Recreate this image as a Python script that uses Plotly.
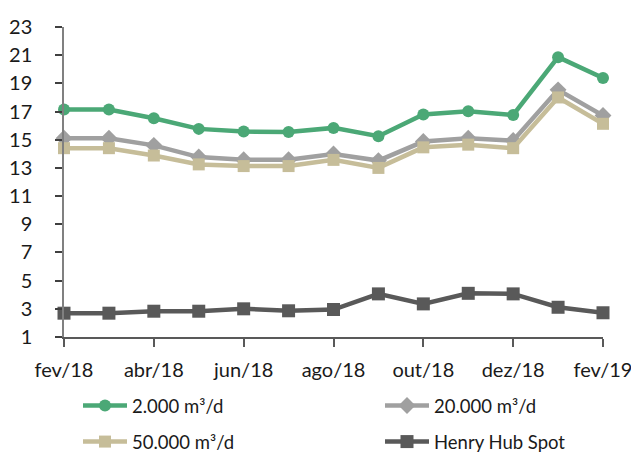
import plotly.graph_objects as go

months = ["fev/18", "mar/18", "abr/18", "mai/18", "jun/18", "jul/18", "ago/18",
          "set/18", "out/18", "nov/18", "dez/18", "jan/19", "fev/19"]
tick_labels = ["fev/18", "abr/18", "jun/18", "ago/18", "out/18", "dez/18", "fev/19"]
y_ticks = [1, 3, 5, 7, 9, 11, 13, 15, 17, 19, 21, 23]

s_2000 = [17.15, 17.15, 16.52, 15.77, 15.58, 15.55, 15.84, 15.25, 16.79, 17.02, 16.76, 20.86, 19.38]
s_20000 = [15.1, 15.1, 14.6, 13.77, 13.58, 13.58, 13.99, 13.52, 14.87, 15.1, 14.94, 18.54, 16.72]
s_50000 = [14.4, 14.4, 13.88, 13.25, 13.13, 13.13, 13.57, 13.0, 14.46, 14.65, 14.4, 18.0, 16.13]
henry = [2.69, 2.69, 2.83, 2.83, 3.0, 2.86, 2.95, 4.06, 3.35, 4.1, 4.06, 3.11, 2.72]

FONT = "Lato, sans-serif"
FSIZE = 20

series = [
    ("2.000 m³/d", s_2000, "#4BA876", "circle", 12, "legend"),
    ("20.000 m³/d", s_20000, "#A0A0A0", "diamond", 13, "legend2"),
    ("50.000 m³/d", s_50000, "#C6BD99", "square", 12, "legend"),
    ("Henry Hub Spot", henry, "#595959", "square", 13, "legend2"),
]

fig = go.Figure()
for i, (name, vals, color, sym, size, leg) in enumerate(series):
    fig.add_trace(go.Scatter(
        x=months, y=vals, name=name, mode="lines+markers",
        line=dict(color=color, width=4.5),
        marker=dict(color=color, symbol=sym, size=size),
        cliponaxis=False, legend=leg, legendgroup="g%d" % i,
    ))

PW, PH = 631, 452
L, R, T, B = 64, 28, 27, 115
plot_w = PW - L - R
plot_h = PH - T - B

leg_common = dict(
    orientation="v", yanchor="top", xanchor="left",
    font=dict(family=FONT, size=18.5, color="#1a1a1a"),
    tracegroupgap=9, bgcolor="rgba(0,0,0,0)", itemwidth=44,
)

fig.update_layout(
    width=PW, height=PH,
    margin=dict(l=L, r=R, t=T, b=B, autoexpand=False),
    paper_bgcolor="white", plot_bgcolor="white",
    font=dict(family=FONT, size=FSIZE, color="#1a1a1a"),
    legend=dict(x=(78 - L) / plot_w, y=-50 / plot_h, **leg_common),
    legend2=dict(x=(380 - L) / plot_w, y=-50 / plot_h, **leg_common),
)
fig.update_xaxes(
    type="category", categoryorder="array", categoryarray=months,
    range=[0, 12], tickmode="array", tickvals=tick_labels, ticktext=tick_labels,
    showline=True, linecolor="#595959", linewidth=1.5,
    ticks="outside", ticklen=8, tickcolor="#595959", tickwidth=1.5,
    showgrid=False, zeroline=False, ticklabelstandoff=6,
)
fig.update_yaxes(
    range=[1, 23], tickmode="array", tickvals=y_ticks,
    showline=True, linecolor="#808080", linewidth=1.5,
    ticks="outside", ticklen=7, tickcolor="#404040", tickwidth=1.5,
    showgrid=False, zeroline=False, ticklabelstandoff=19,
)

fig.write_html("out.html", config={"displayModeBar": False},
               post_script="document.body.style.margin='0';document.body.style.overflow='hidden';")
